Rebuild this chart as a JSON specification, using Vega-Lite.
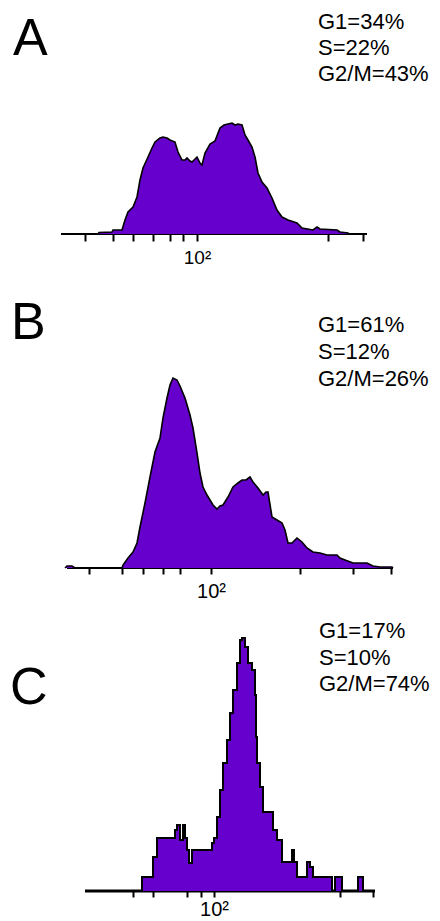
{
  "$schema": "https://vega.github.io/schema/vega-lite/v6.json",
  "padding": 0,
  "background": "white",
  "spacing": 0,
  "bounds": "flush",
  "config": {"view": {"stroke": null}, "axis": {"grid": false}},
  "datasets": {
    "axisA": [{"start": 61, "end": 367}],
    "axisB": [{"start": 67, "end": 393}],
    "axisC": [{"start": 85, "end": 375}],
    "histA": [
      {"channel": 98, "count": 0}, {"channel": 99, "count": 1.5}, {"channel": 112, "count": 2}, {"channel": 113, "count": 4},
      {"channel": 122, "count": 4}, {"channel": 125, "count": 14}, {"channel": 128, "count": 22}, {"channel": 133, "count": 27},
      {"channel": 137, "count": 37}, {"channel": 140, "count": 54}, {"channel": 143, "count": 66}, {"channel": 148, "count": 77},
      {"channel": 152, "count": 86}, {"channel": 155, "count": 92}, {"channel": 160, "count": 96}, {"channel": 163, "count": 97},
      {"channel": 167, "count": 96}, {"channel": 170, "count": 94}, {"channel": 175, "count": 92}, {"channel": 178, "count": 82},
      {"channel": 182, "count": 74}, {"channel": 185, "count": 74}, {"channel": 187, "count": 76}, {"channel": 190, "count": 73},
      {"channel": 192, "count": 72}, {"channel": 195, "count": 75}, {"channel": 197, "count": 77}, {"channel": 200, "count": 71},
      {"channel": 202, "count": 69}, {"channel": 205, "count": 81}, {"channel": 210, "count": 90}, {"channel": 215, "count": 93},
      {"channel": 220, "count": 106}, {"channel": 224, "count": 109}, {"channel": 228, "count": 110}, {"channel": 232, "count": 111},
      {"channel": 235, "count": 109}, {"channel": 238, "count": 110}, {"channel": 242, "count": 109}, {"channel": 245, "count": 99},
      {"channel": 248, "count": 94}, {"channel": 252, "count": 87}, {"channel": 255, "count": 77}, {"channel": 258, "count": 61},
      {"channel": 262, "count": 52}, {"channel": 267, "count": 46}, {"channel": 272, "count": 36}, {"channel": 277, "count": 24},
      {"channel": 282, "count": 17}, {"channel": 288, "count": 14}, {"channel": 297, "count": 11}, {"channel": 302, "count": 6},
      {"channel": 313, "count": 4}, {"channel": 317, "count": 7}, {"channel": 320, "count": 5}, {"channel": 337, "count": 4},
      {"channel": 340, "count": 2}, {"channel": 348, "count": 1}, {"channel": 349, "count": 0}
    ],
    "histB": [
      {"channel": 65, "count": 0}, {"channel": 67, "count": 2}, {"channel": 72, "count": 2}, {"channel": 75, "count": 0},
      {"channel": 122, "count": 0}, {"channel": 123, "count": 3}, {"channel": 128, "count": 10}, {"channel": 133, "count": 16},
      {"channel": 137, "count": 25}, {"channel": 140, "count": 41}, {"channel": 145, "count": 65}, {"channel": 150, "count": 91},
      {"channel": 155, "count": 116}, {"channel": 160, "count": 130}, {"channel": 163, "count": 150}, {"channel": 167, "count": 170},
      {"channel": 170, "count": 183}, {"channel": 173, "count": 190}, {"channel": 177, "count": 188}, {"channel": 180, "count": 182},
      {"channel": 185, "count": 170}, {"channel": 190, "count": 153}, {"channel": 193, "count": 140}, {"channel": 197, "count": 115},
      {"channel": 200, "count": 95}, {"channel": 203, "count": 81}, {"channel": 207, "count": 73}, {"channel": 210, "count": 68},
      {"channel": 213, "count": 63}, {"channel": 217, "count": 59}, {"channel": 220, "count": 62}, {"channel": 223, "count": 63},
      {"channel": 228, "count": 71}, {"channel": 233, "count": 81}, {"channel": 238, "count": 85}, {"channel": 242, "count": 88},
      {"channel": 246, "count": 88}, {"channel": 250, "count": 91}, {"channel": 253, "count": 86}, {"channel": 258, "count": 80},
      {"channel": 263, "count": 73}, {"channel": 266, "count": 76}, {"channel": 268, "count": 76}, {"channel": 272, "count": 51},
      {"channel": 277, "count": 48}, {"channel": 282, "count": 45}, {"channel": 285, "count": 38}, {"channel": 288, "count": 25},
      {"channel": 292, "count": 25}, {"channel": 297, "count": 30}, {"channel": 302, "count": 26}, {"channel": 307, "count": 20},
      {"channel": 313, "count": 16}, {"channel": 320, "count": 15}, {"channel": 327, "count": 13}, {"channel": 337, "count": 13},
      {"channel": 340, "count": 10}, {"channel": 345, "count": 8}, {"channel": 353, "count": 5}, {"channel": 360, "count": 5},
      {"channel": 367, "count": 5}, {"channel": 373, "count": 2}, {"channel": 380, "count": 1}, {"channel": 387, "count": 1},
      {"channel": 392, "count": 1}, {"channel": 393, "count": 0}
    ],
    "histC": [
      {"channel": 140, "count": 0}, {"channel": 142, "count": 14}, {"channel": 153, "count": 34}, {"channel": 157, "count": 53},
      {"channel": 175, "count": 61}, {"channel": 177, "count": 66}, {"channel": 180, "count": 51}, {"channel": 183, "count": 66},
      {"channel": 185, "count": 53}, {"channel": 187, "count": 41}, {"channel": 189, "count": 28}, {"channel": 192, "count": 41},
      {"channel": 212, "count": 48}, {"channel": 214, "count": 53}, {"channel": 217, "count": 74}, {"channel": 220, "count": 101},
      {"channel": 223, "count": 128}, {"channel": 227, "count": 151}, {"channel": 230, "count": 178}, {"channel": 233, "count": 201},
      {"channel": 237, "count": 228}, {"channel": 240, "count": 251}, {"channel": 242, "count": 253}, {"channel": 245, "count": 244},
      {"channel": 248, "count": 228}, {"channel": 252, "count": 221}, {"channel": 255, "count": 196}, {"channel": 256, "count": 154},
      {"channel": 257, "count": 128}, {"channel": 260, "count": 104}, {"channel": 263, "count": 79}, {"channel": 273, "count": 61},
      {"channel": 277, "count": 51}, {"channel": 282, "count": 29}, {"channel": 292, "count": 41}, {"channel": 294, "count": 29},
      {"channel": 297, "count": 14}, {"channel": 307, "count": 29}, {"channel": 310, "count": 24}, {"channel": 313, "count": 14},
      {"channel": 332, "count": 0}, {"channel": 335, "count": 14}, {"channel": 342, "count": 0}, {"channel": 358, "count": 14},
      {"channel": 363, "count": 0}
    ],
    "letterA": [{"label": "A", "channel": 13, "count": 179}],
    "letterB": [{"label": "B", "channel": 11, "count": 229}],
    "letterC": [{"label": "C", "channel": 10, "count": 187}],
    "statsA": [
      {"label": "G1=34%", "channel": 318, "count": 205},
      {"label": "S=22%", "channel": 318, "count": 179},
      {"label": "G2/M=43%", "channel": 318, "count": 153}
    ],
    "statsB": [
      {"label": "G1=61%", "channel": 318, "count": 236},
      {"label": "S=12%", "channel": 318, "count": 209},
      {"label": "G2/M=26%", "channel": 318, "count": 182}
    ],
    "statsC": [
      {"label": "G1=17%", "channel": 319, "count": 253},
      {"label": "S=10%", "channel": 319, "count": 226},
      {"label": "G2/M=74%", "channel": 319, "count": 200}
    ]
  },
  "vconcat": [
    {
      "width": 440,
      "height": 234,
      "layer": [
        {
          "data": {"name": "axisA"},
          "mark": {"type": "rule", "color": "black", "strokeWidth": 2},
          "encoding": {
            "x": {"field": "start", "type": "quantitative", "scale": {"domain": [0, 440], "nice": false, "zero": false},
              "axis": {"values": [85, 113, 133, 153, 170, 183, 197, 328, 363], "domain": false, "tickColor": "black", "tickWidth": 2, "tickSize": 7,
                "labelExpr": "datum.value == 197 ? '10²' : ''", "labelFont": "Liberation Sans Narrow, Liberation Sans", "labelFontSize": 19,
                "labelColor": "black", "labelBaseline": "alphabetic", "labelPadding": 22, "labelOverlap": false, "labelFlush": false, "title": null, "grid": false}},
            "x2": {"field": "end"},
            "y": {"datum": 0, "type": "quantitative", "scale": {"domain": [0, 234], "nice": false}, "axis": null}
          }
        },
        {
          "data": {"name": "histA"},
          "mark": {"type": "area", "color": "#6600cc", "opacity": 1, "line": {"color": "black", "strokeWidth": 1.6}},
          "encoding": {
            "x": {"field": "channel", "type": "quantitative"},
            "y": {"field": "count", "type": "quantitative", "stack": null}
          }
        },
        {
          "data": {"name": "letterA"},
          "mark": {"type": "text", "font": "Liberation Sans", "fontSize": 52, "align": "left", "baseline": "alphabetic", "color": "black"},
          "encoding": {"x": {"field": "channel", "type": "quantitative"}, "y": {"field": "count", "type": "quantitative"}, "text": {"field": "label"}}
        },
        {
          "data": {"name": "statsA"},
          "mark": {"type": "text", "font": "Liberation Sans", "fontSize": 22, "align": "left", "baseline": "alphabetic", "color": "black"},
          "encoding": {"x": {"field": "channel", "type": "quantitative"}, "y": {"field": "count", "type": "quantitative"}, "text": {"field": "label"}}
        }
      ]
    },
    {
      "width": 440,
      "height": 334,
      "layer": [
        {
          "data": {"name": "axisB"},
          "mark": {"type": "rule", "color": "black", "strokeWidth": 2},
          "encoding": {
            "x": {"field": "start", "type": "quantitative", "scale": {"domain": [0, 440], "nice": false, "zero": false},
              "axis": {"values": [89, 122, 143, 163, 180, 211, 300, 353, 391], "domain": false, "tickColor": "black", "tickWidth": 2, "tickSize": 6,
                "labelExpr": "datum.value == 211 ? '10²' : ''", "labelFont": "Liberation Sans Narrow, Liberation Sans", "labelFontSize": 20,
                "labelColor": "black", "labelBaseline": "alphabetic", "labelPadding": 23, "labelOverlap": false, "labelFlush": false, "title": null, "grid": false}},
            "x2": {"field": "end"},
            "y": {"datum": 0, "type": "quantitative", "scale": {"domain": [0, 334], "nice": false}, "axis": null}
          }
        },
        {
          "data": {"name": "histB"},
          "mark": {"type": "area", "color": "#6600cc", "opacity": 1, "line": {"color": "black", "strokeWidth": 1.6}},
          "encoding": {
            "x": {"field": "channel", "type": "quantitative"},
            "y": {"field": "count", "type": "quantitative", "stack": null}
          }
        },
        {
          "data": {"name": "letterB"},
          "mark": {"type": "text", "font": "Liberation Sans", "fontSize": 52, "align": "left", "baseline": "alphabetic", "color": "black"},
          "encoding": {"x": {"field": "channel", "type": "quantitative"}, "y": {"field": "count", "type": "quantitative"}, "text": {"field": "label"}}
        },
        {
          "data": {"name": "statsB"},
          "mark": {"type": "text", "font": "Liberation Sans", "fontSize": 22, "align": "left", "baseline": "alphabetic", "color": "black"},
          "encoding": {"x": {"field": "channel", "type": "quantitative"}, "y": {"field": "count", "type": "quantitative"}, "text": {"field": "label"}}
        }
      ]
    },
    {
      "width": 440,
      "height": 323,
      "layer": [
        {
          "data": {"name": "axisC"},
          "mark": {"type": "rule", "color": "black", "strokeWidth": 3},
          "encoding": {
            "x": {"field": "start", "type": "quantitative", "scale": {"domain": [0, 440], "nice": false, "zero": false},
              "axis": {"values": [133, 153, 187, 201, 214, 340, 373], "domain": false, "tickColor": "black", "tickWidth": 2, "tickSize": 6,
                "labelExpr": "datum.value == 214 ? '10²' : ''", "labelFont": "Liberation Sans Narrow, Liberation Sans", "labelFontSize": 20,
                "labelColor": "black", "labelBaseline": "alphabetic", "labelPadding": 18, "labelOverlap": false, "labelFlush": false, "title": null, "grid": false}},
            "x2": {"field": "end"},
            "y": {"datum": 0, "type": "quantitative", "scale": {"domain": [0, 323], "nice": false}, "axis": null}
          }
        },
        {
          "data": {"name": "histC"},
          "mark": {"type": "area", "color": "#6600cc", "opacity": 1, "interpolate": "step-after", "line": {"color": "black", "strokeWidth": 2, "interpolate": "step-after"}},
          "encoding": {
            "x": {"field": "channel", "type": "quantitative"},
            "y": {"field": "count", "type": "quantitative", "stack": null}
          }
        },
        {
          "data": {"name": "letterC"},
          "mark": {"type": "text", "font": "Liberation Sans", "fontSize": 52, "align": "left", "baseline": "alphabetic", "color": "black"},
          "encoding": {"x": {"field": "channel", "type": "quantitative"}, "y": {"field": "count", "type": "quantitative"}, "text": {"field": "label"}}
        },
        {
          "data": {"name": "statsC"},
          "mark": {"type": "text", "font": "Liberation Sans", "fontSize": 22, "align": "left", "baseline": "alphabetic", "color": "black"},
          "encoding": {"x": {"field": "channel", "type": "quantitative"}, "y": {"field": "count", "type": "quantitative"}, "text": {"field": "label"}}
        }
      ]
    }
  ]
}
